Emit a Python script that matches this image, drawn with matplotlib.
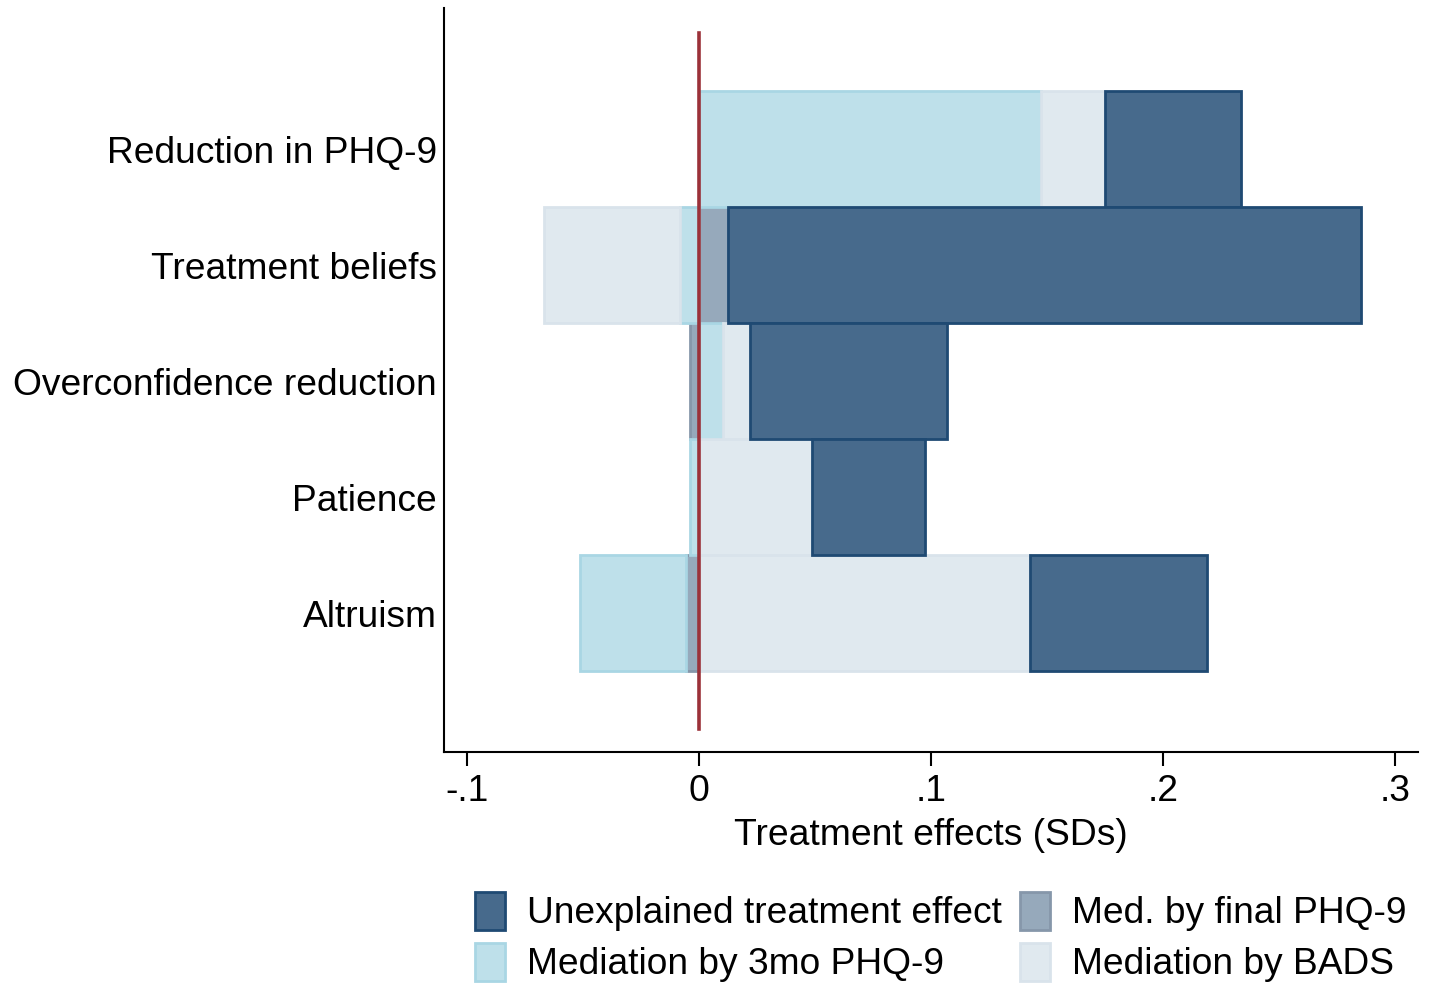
import matplotlib
matplotlib.use("Agg")
import matplotlib.pyplot as plt
import numpy as np
from matplotlib.patches import Patch

plt.rcParams['font.family'] = ['Liberation Sans', 'DejaVu Sans']

# Datos (SDs)
outcomes = ['Reduction in PHQ-9', 'Treatment beliefs', 'Overconfidence reduction',
            'Patience', 'Altruism']
med_final = [0.0, 0.0126, -0.0039, 0.0, -0.0056]
med_3mo = [0.1474, -0.0081, 0.0105, -0.0039, -0.0457]
med_bads = [0.0276, -0.0589, 0.0115, 0.0488, 0.1427]
unexplained = [0.0586, 0.2727, 0.0848, 0.0484, 0.0763]

xticks = [-0.1, 0, 0.1, 0.2, 0.3]
xticklabels = ['-.1', '0', '.1', '.2', '.3']

# Estilos de cada componente
series = [
    ('Med. by final PHQ-9', med_final, '#96a9bb', '#8697aa'),
    ('Mediation by 3mo PHQ-9', med_3mo, '#bee0ea', '#a9d6e4'),
    ('Mediation by BADS', med_bads, '#e0e9ef', '#d9e3eb'),
    ('Unexplained treatment effect', unexplained, '#476a8c', '#1f4a73'),
]

fig = plt.figure(figsize=(14.29, 9.85), dpi=100)
ax = fig.add_axes([444 / 1429, 1 - 752 / 985, (1418 - 444) / 1429, (752 - 8) / 985])

y = np.arange(1, len(outcomes) + 1)
pos = np.zeros(len(outcomes))
neg = np.zeros(len(outcomes))
handles = {}
for name, vals, fc, ec in series:
    vals = np.array(vals)
    left = np.where(vals >= 0, pos, neg)
    ax.barh(y, vals, left=left, height=1.0, color=fc, edgecolor=ec,
            linewidth=2, zorder=2)
    pos = pos + np.clip(vals, 0, None)
    neg = neg + np.clip(vals, None, 0)
    handles[name] = Patch(facecolor=fc, edgecolor=ec, linewidth=2)

# Línea en cero
ax.plot([0, 0], [0, 6], color='#9b3139', linewidth=2.6, zorder=3)

ax.set_xlim(-0.11, 0.31)
ax.set_ylim(6.198, -0.2155)
ax.set_xticks(xticks)
ax.set_xticklabels(xticklabels)
ax.set_yticks(y)
ax.set_yticklabels(outcomes)
ax.tick_params(axis='x', labelsize=26.8, length=10, width=1.5, pad=6)
ax.tick_params(axis='y', labelsize=26.7, length=0, pad=5)
ax.set_xlabel('Treatment effects (SDs)', fontsize=26.8, labelpad=6)

for s in ['top', 'right']:
    ax.spines[s].set_visible(False)
for s in ['left', 'bottom']:
    ax.spines[s].set_linewidth(1.5)

order = ['Unexplained treatment effect', 'Mediation by 3mo PHQ-9',
         'Med. by final PHQ-9', 'Mediation by BADS']
fig.legend([handles[k] for k in order], order, ncol=2, frameon=False,
           fontsize=26.7, loc='center', bbox_to_anchor=(941 / 1429, 1 - 937 / 985),
           handlelength=0.8, handleheight=1.2, handletextpad=0.6,
           columnspacing=0.5, labelspacing=0.32)

fig.savefig('out.png', dpi=100, facecolor='white')
